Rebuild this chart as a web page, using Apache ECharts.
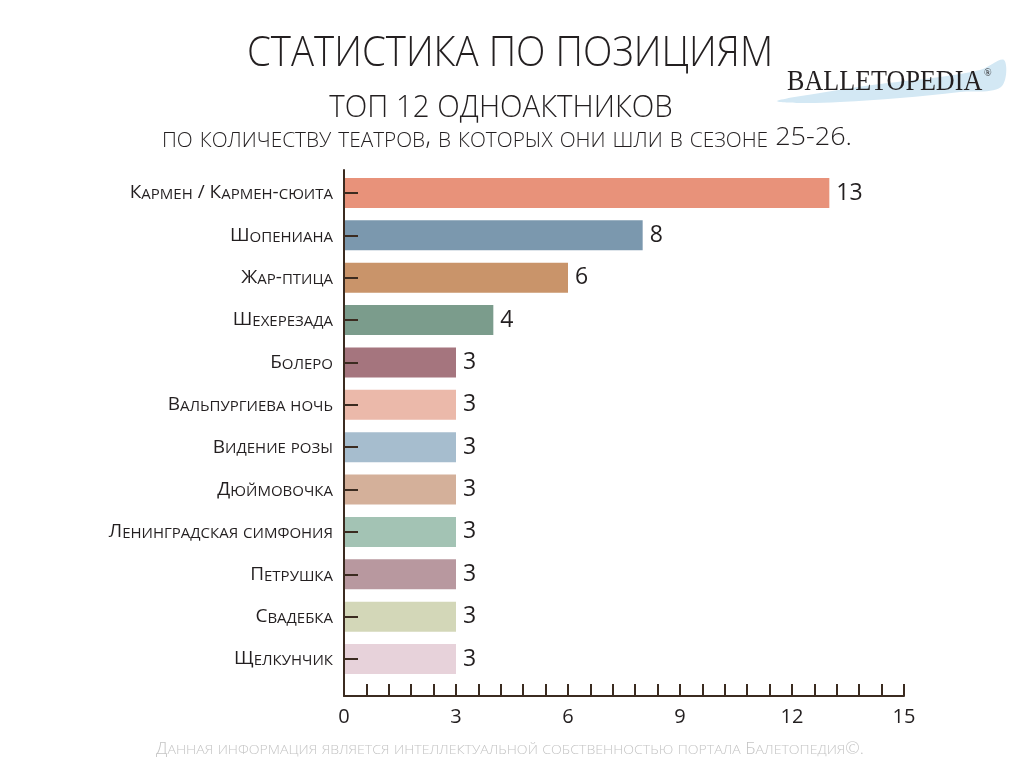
<!DOCTYPE html>
<html>
<head>
<meta charset="utf-8">
<script src="https://cdn.jsdelivr.net/npm/echarts@6/dist/echarts.min.js"></script>
<style>html,body{margin:0;padding:0;background:#fff;}#c{width:1024px;height:768px;}</style>
</head>
<body>
<div id="c"></div>
<script>
// ---- data ----
const categories = ['Кармен / Кармен-сюита','Шопениана','Жар-птица','Шехерезада','Болеро','Вальпургиева ночь','Видение розы','Дюймовочка','Ленинградская симфония','Петрушка','Свадебка','Щелкунчик'];
const values = [13, 8, 6, 4, 3, 3, 3, 3, 3, 3, 3, 3];
const barColors = ['#E8927A','#7B98AE','#C9946A','#7B9C8C','#A5757E','#EBB9AA','#A6BDCE','#D4B09A','#A3C3B4','#B8989F','#D3D7B8','#E7D2DA'];
const xTicks = [0, 3, 6, 9, 12, 15];
const titleText = 'СТАТИСТИКА ПО ПОЗИЦИЯМ';
const subtitleText = 'ТОП 12 ОДНОАКТНИКОВ';
const descText = 'по количеству театров, в которых они шли в сезоне 25-26.';
const footerText = 'Данная информация является интеллектуальной собственностью портала Балетопедия©.';
const logoText = 'BALLETOPEDIA';

const FONT = '"Open Sans", "Noto Sans", sans-serif';
const TEXT = '#231f20';
const AXIS = '#3b2b20';

// small-caps emulation via rich text
function sc(str) {
  let out = '', cur = null, buf = '';
  for (const ch of str) {
    const lower = ch !== ch.toUpperCase() && ch === ch.toLowerCase();
    const k = lower ? 's' : 'b';
    const c = lower ? ch.toUpperCase() : ch;
    if (k !== cur) { if (buf) out += '{' + cur + '|' + buf + '}'; buf = ''; cur = k; }
    buf += c;
  }
  if (buf) out += '{' + cur + '|' + buf + '}';
  return out;
}
function rich(big, small, color, weight) {
  return {
    b: {fontSize: big, fontFamily: FONT, color: color, fill: color, fontWeight: weight || 'normal', verticalAlign: 'bottom', lineHeight: big},
    s: {fontSize: small, fontFamily: FONT, color: color, fill: color, fontWeight: weight || 'normal', verticalAlign: 'bottom', lineHeight: small}
  };
}

const chart = echarts.init(document.getElementById('c'), null, {renderer: 'canvas'});
const option = {
  backgroundColor: '#ffffff',
  animation: false,
  graphic: [
    {type: 'text', x: 510, y: 54, scaleX: 0.915,
     style: {text: titleText, font: '300 42px ' + FONT, fill: TEXT, align: 'center', verticalAlign: 'middle'}},
    {type: 'text', x: 501, y: 108, scaleX: 0.92,
     style: {text: subtitleText, font: '300 32px ' + FONT, fill: TEXT, align: 'center', verticalAlign: 'middle'}},
    {type: 'text', x: 507, y: 138, scaleX: 1.04,
     style: {text: sc(descText), rich: rich(26, 20, TEXT, 300), fill: TEXT, align: 'center', verticalAlign: 'middle'}},
    {type: 'text', x: 510, y: 749, scaleX: 1.085,
     style: {text: sc(footerText), rich: rich(16, 13, '#c4c4c4', 300), fill: '#c4c4c4', align: 'center', verticalAlign: 'middle'}},
    {type: 'polygon', z: 1,
     shape: {smooth: 0.35, points: [[777, 101], [820, 93], [880, 84], [940, 77], [980, 70], [1004, 60], [1001, 87], [960, 92], [900, 98], [840, 102], [800, 103]]},
     style: {fill: '#d3e8f4'}},
    {type: 'text', z: 2, x: 787, y: 82, scaleX: 0.9,
     style: {text: logoText, font: '29px "Liberation Serif", serif', fill: TEXT, verticalAlign: 'middle', align: 'left'}},
    {type: 'text', z: 2, x: 984, y: 73,
     style: {text: '®', font: '10px "Liberation Serif", serif', fill: TEXT, verticalAlign: 'middle', align: 'left'}}
  ],
  grid: [
    {left: 344, width: 560, top: 171.8, height: 508.4, containLabel: false},
    {left: 344, width: 560, top: 170, height: 526, containLabel: false}
  ],
  xAxis: [
    {type: 'value', gridIndex: 0, min: 0, max: 15, show: false},
    {type: 'value', gridIndex: 1, min: xTicks[0], max: xTicks[xTicks.length - 1], interval: 3, z: 3,
     axisLine: {show: true, lineStyle: {color: AXIS, width: 2}},
     axisTick: {show: true, inside: true, length: 12, lineStyle: {color: AXIS, width: 2}},
     minorTick: {show: true, splitNumber: 5, length: 12, lineStyle: {color: AXIS, width: 2}},
     splitLine: {show: false}, minorSplitLine: {show: false},
     axisLabel: {show: true, margin: 11, fontFamily: FONT, fontSize: 20, color: TEXT,
       formatter: v => xTicks.indexOf(v) >= 0 ? String(v) : ''}}
  ],
  yAxis: [
    {type: 'category', gridIndex: 0, data: categories, inverse: true, z: 3,
     axisLine: {show: false},
     axisTick: {show: true, inside: true, length: 14, alignWithLabel: true, lineStyle: {color: AXIS, width: 2}},
     splitLine: {show: false},
     axisLabel: {margin: 11, formatter: v => sc(v), rich: rich(19, 15, TEXT)}},
    {type: 'value', gridIndex: 1, min: 0, max: 1, z: 3,
     axisLine: {show: true, lineStyle: {color: AXIS, width: 2}},
     axisTick: {show: false}, axisLabel: {show: false}, splitLine: {show: false}}
  ],
  series: [{
    type: 'bar', xAxisIndex: 0, yAxisIndex: 0, barWidth: 30,
    data: values.map((v, i) => ({value: v, itemStyle: {color: barColors[i]}})),
    label: {show: true, position: 'right', distance: 7, fontFamily: FONT, fontSize: 23, color: TEXT}
  }]
};
chart.setOption(option);
</script>
</body>
</html>
